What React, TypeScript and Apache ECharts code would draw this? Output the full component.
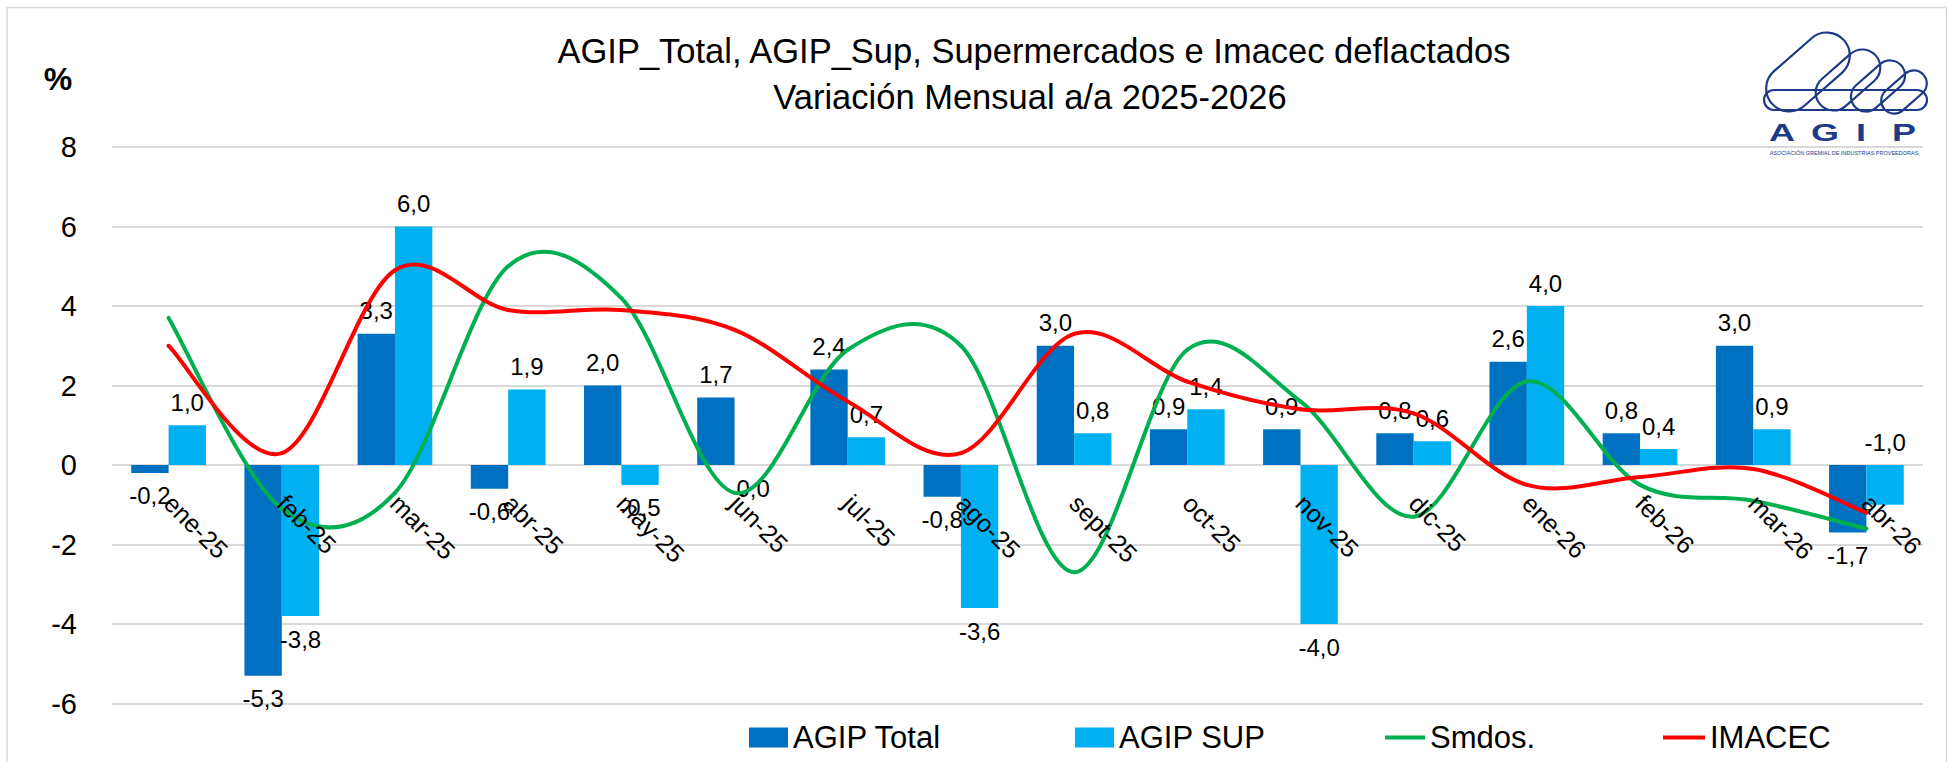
import React, { useEffect, useRef } from 'react';
import * as echarts from 'echarts';

const categories = ['ene-25', 'feb-25', 'mar-25', 'abr-25', 'may-25', 'jun-25', 'jul-25', 'ago-25', 'sept-25', 'oct-25', 'nov-25', 'dic-25', 'ene-26', 'feb-26', 'mar-26', 'abr-26'];
const agipTotal = [-0.2, -5.3, 3.3, -0.6, 2.0, 1.7, 2.4, -0.8, 3.0, 0.9, 0.9, 0.8, 2.6, 0.8, 3.0, -1.7];
const agipSup = [1.0, -3.8, 6.0, 1.9, -0.5, 0.0, 0.7, -3.6, 0.8, 1.4, -4.0, 0.6, 4.0, 0.4, 0.9, -1.0];
const smdos = [3.7, -1.1, -0.7, 5.0, 4.2, -0.7, 2.9, 3.0, -2.7, 2.9, 1.6, -1.3, 2.1, -0.5, -0.9, -1.6];
const imacec = [3.0, 0.3, 4.9, 3.9, 3.9, 3.4, 1.6, 0.3, 3.3, 2.1, 1.4, 1.3, -0.5, -0.3, -0.1, -1.2];
const yMin = -6;
const yMax = 8;
const yStep = 2;
const titleLines = ['AGIP_Total, AGIP_Sup, Supermercados e Imacec deflactados', 'Variación Mensual a/a 2025-2026'];
const seriesNames = ['AGIP Total', 'AGIP SUP', 'Smdos.', 'IMACEC'];
const labelAboveCategory = 'abr-26';

const FONT = '"Liberation Sans", Arial, sans-serif';
const NAVY = '#1d3a87';
const GRID_TOP = 147;
const GRID_BOTTOM = 58.5;
const CHART_H = 762;
const fmt = (v: number) => v.toFixed(1).replace('.', ',');

// Excel-like smoothed line (Catmull-Rom bezier) drawn through the axes' own coordinate mapping
function smoothSeries(name: string, values: number[], color: string) {
  const n = values.length;
  return {
    name,
    type: 'custom',
    data: values.map((v, i) => [i, v]),
    encode: { x: 0, y: 1 },
    itemStyle: { color },
    z: 3,
    clip: false,
    renderItem: (params: any, api: any) => {
      const i = params.dataIndex;
      if (i >= n - 1) return null;
      const p = (k: number) => api.coord([k, values[k]]);
      const p0 = p(Math.max(i - 1, 0));
      const p1 = p(i);
      const p2 = p(i + 1);
      const p3 = p(Math.min(i + 2, n - 1));
      const c1 = [p1[0] + (p2[0] - p0[0]) / 6, p1[1] + (p2[1] - p0[1]) / 6];
      const c2 = [p2[0] - (p3[0] - p1[0]) / 6, p2[1] - (p3[1] - p1[1]) / 6];
      return {
        type: 'bezierCurve',
        shape: { x1: p1[0], y1: p1[1], x2: p2[0], y2: p2[1], cpx1: c1[0], cpy1: c1[1], cpx2: c2[0], cpy2: c2[1] },
        style: { fill: 'none', stroke: color, lineWidth: 4, lineCap: 'round' },
      };
    },
  };
}

export default function App() {
  const ref = useRef<HTMLDivElement>(null);
  useEffect(() => {
    const chart = echarts.init(ref.current!, null, { renderer: 'svg' });
    const plotH = CHART_H - GRID_TOP - GRID_BOTTOM;
    const zeroOffset = -((0 - yMin) / (yMax - yMin)) * plotH;
    const barLabel = {
      show: true,
      position: 'outside',
      distance: 11,
      fontSize: 24,
      color: '#000',
      fontFamily: FONT,
      formatter: (p: any) => fmt(p.value),
    };
    const supData = agipSup.map((v, i) =>
      categories[i] === labelAboveCategory ? { value: v, label: { position: 'top' } } : v
    );
    const legendCommon = {
      top: 722,
      padding: 0,
      itemGap: 0,
      selectedMode: false,
      textStyle: { fontSize: 31, color: '#000', fontFamily: FONT },
    };
    const linkRect = (cx: number, cy: number, w: number, h: number) => ({
      type: 'rect',
      x: cx,
      y: cy,
      rotation: 0.72,
      shape: { x: -w / 2, y: -h / 2, width: w, height: h, r: h / 2 },
      style: { fill: 'none', stroke: NAVY, lineWidth: 2.2 },
    });
    const option: any = {
      animation: false,
      backgroundColor: '#fff',
      textStyle: { fontFamily: FONT },
      grid: { left: 112, right: 25, top: GRID_TOP, bottom: GRID_BOTTOM, containLabel: false },
      xAxis: {
        type: 'category',
        data: categories,
        z: 5,
        offset: zeroOffset,
        axisLine: { show: false, onZero: false },
        axisTick: { show: false },
        axisLabel: { interval: 0, rotate: -45, margin: 34, fontSize: 25, color: '#000', fontFamily: FONT },
        splitLine: { show: false },
      },
      yAxis: {
        type: 'value',
        min: yMin,
        max: yMax,
        interval: yStep,
        axisLine: { show: false },
        axisTick: { show: false },
        axisLabel: { fontSize: 29, color: '#000', margin: 35, fontFamily: FONT },
        splitLine: { lineStyle: { color: '#D9D9D9', width: 2 } },
      },
      legend: [
        { ...legendCommon, data: [{ name: seriesNames[0], icon: 'rect' }], left: 749, itemWidth: 39, itemHeight: 20 },
        { ...legendCommon, data: [{ name: seriesNames[1], icon: 'rect' }], left: 1075, itemWidth: 39, itemHeight: 20 },
        { ...legendCommon, data: [{ name: seriesNames[2], icon: 'rect' }], left: 1385, itemWidth: 40, itemHeight: 4 },
        { ...legendCommon, data: [{ name: seriesNames[3], icon: 'rect' }], left: 1663, itemWidth: 42, itemHeight: 4 },
      ],
      series: [
        {
          name: seriesNames[0],
          type: 'bar',
          data: agipTotal,
          barGap: '0%',
          barCategoryGap: '34%',
          itemStyle: { color: '#0070C0' },
          label: barLabel,
        },
        {
          name: seriesNames[1],
          type: 'bar',
          data: supData,
          barGap: '0%',
          barCategoryGap: '34%',
          itemStyle: { color: '#00B0F0' },
          label: barLabel,
        },
        smoothSeries(seriesNames[2], smdos, '#00B050'),
        smoothSeries(seriesNames[3], imacec, '#FF0000'),
      ],
      graphic: [
        {
          type: 'rect',
          z: -10,
          silent: true,
          shape: { x: 7, y: 7.5, width: 1939.5, height: 800 },
          style: { fill: 'none', stroke: '#D9D9D9', lineWidth: 1.5 },
        },
        {
          type: 'text',
          x: 1034,
          y: 51,
          style: { text: titleLines[0], fontSize: 34.5, fontFamily: FONT, fill: '#000', textAlign: 'center', textVerticalAlign: 'middle' },
        },
        {
          type: 'text',
          x: 1030,
          y: 97,
          style: { text: titleLines[1], fontSize: 34.5, fontFamily: FONT, fill: '#000', textAlign: 'center', textVerticalAlign: 'middle' },
        },
        {
          type: 'text',
          x: 58,
          y: 79,
          style: { text: '%', fontSize: 32, fontWeight: 'bold', fontFamily: FONT, fill: '#000', textAlign: 'center', textVerticalAlign: 'middle' },
        },
        {
          type: 'group',
          x: 1740,
          y: 0,
          z: 100,
          children: [
            { type: 'rect', shape: { x: 33, y: 18, width: 172, height: 145 }, style: { fill: '#fff' } },
            linkRect(68, 72, 96, 46),
            linkRect(108, 80, 74, 36),
            linkRect(138, 86, 62, 30),
            linkRect(164, 92, 52, 26),
            { type: 'rect', shape: { x: 24, y: 90, width: 163, height: 20, r: 10 }, style: { fill: 'none', stroke: NAVY, lineWidth: 2.2 } },
            { type: 'text', x: 42, y: 132, scaleX: 1.5, style: { text: 'A', fontSize: 24, fontWeight: 'bold', fontFamily: FONT, fill: NAVY, textAlign: 'center', textVerticalAlign: 'middle' } },
            { type: 'text', x: 85, y: 132, scaleX: 1.5, style: { text: 'G', fontSize: 24, fontWeight: 'bold', fontFamily: FONT, fill: NAVY, textAlign: 'center', textVerticalAlign: 'middle' } },
            { type: 'text', x: 121, y: 132, scaleX: 1.5, style: { text: 'I', fontSize: 24, fontWeight: 'bold', fontFamily: FONT, fill: NAVY, textAlign: 'center', textVerticalAlign: 'middle' } },
            { type: 'text', x: 164, y: 132, scaleX: 1.5, style: { text: 'P', fontSize: 24, fontWeight: 'bold', fontFamily: FONT, fill: NAVY, textAlign: 'center', textVerticalAlign: 'middle' } },
            { type: 'text', x: 104, y: 153, style: { text: 'ASOCIACIÓN GREMIAL DE INDUSTRIAS PROVEEDORAS', fontSize: 5.5, fontFamily: FONT, fill: NAVY, textAlign: 'center', textVerticalAlign: 'middle' } },
          ],
        },
      ],
    };
    chart.setOption(option);
    return () => chart.dispose();
  }, []);
  return <div ref={ref} style={{ position: 'fixed', left: 0, top: 0, width: 1948, height: 762, background: '#fff' }} />;
}
